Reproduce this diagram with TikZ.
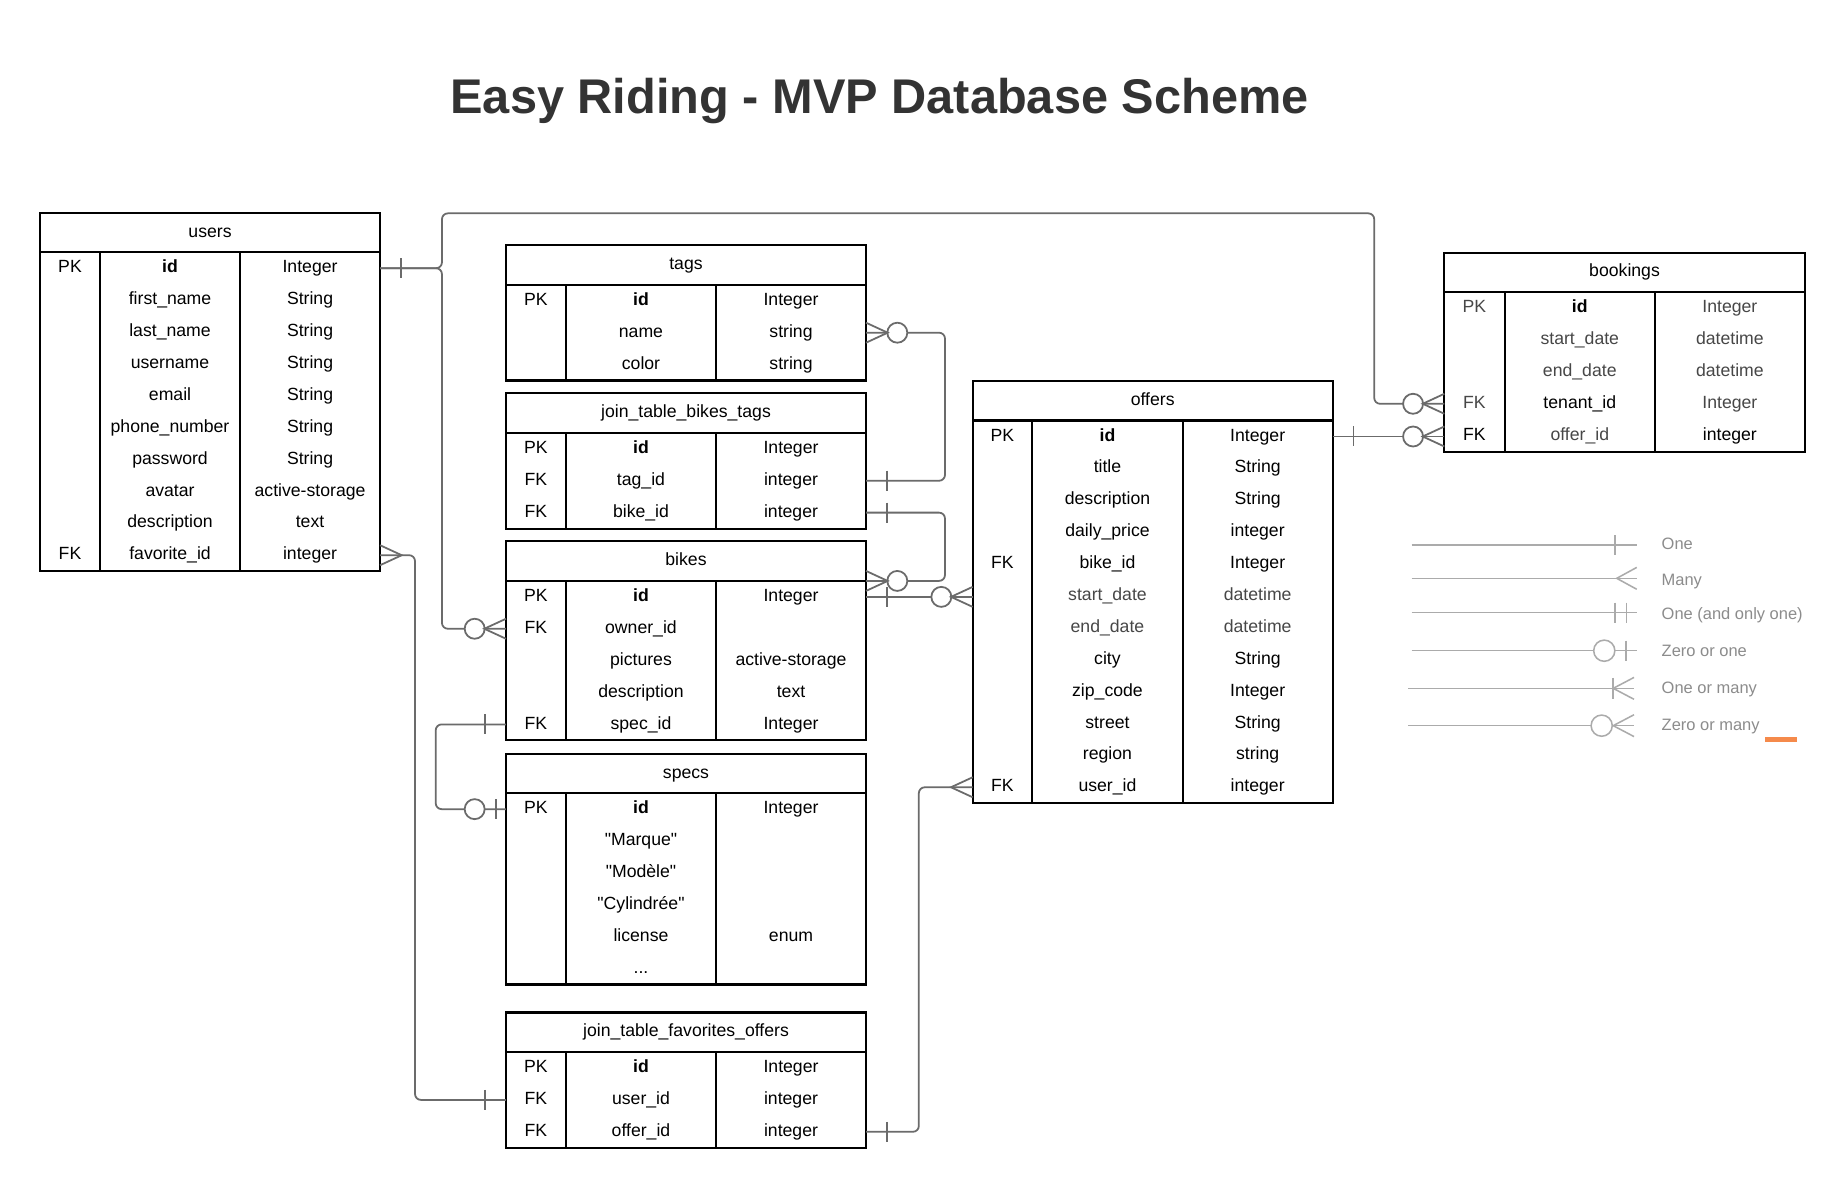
\documentclass[tikz,border=0pt]{standalone}
\usepackage{fontspec}
\setmainfont{Liberation Sans}
\usetikzlibrary{calc,fit}
\definecolor{conncol}{HTML}{6B6B6B}
\definecolor{softtxt}{HTML}{474747}
\definecolor{legcol}{HTML}{ABABAB}
\definecolor{legtxt}{HTML}{8C8C8C}
\definecolor{titlecol}{HTML}{333333}
\definecolor{orangebar}{HTML}{F58A4B}

\newcommand\errh{27.1}
\newcommand\erhh{33.6}
% straight double quote, bypassing the TeX ligature mapping
\newcommand\sq{\XeTeXglyph\XeTeXcharglyph 34\relax}

\tikzset{
  tablebox/.style={draw=black, line width=1.8pt, inner sep=0pt, outer sep=0pt},
  tableline/.style={draw=black, line width=1.8pt},
  rowbox/.style={inner sep=0pt, outer sep=0pt, minimum height=\errh pt},
  celltxt/.style={font=\fontsize{15}{18}\selectfont, inner sep=0pt, outer sep=0pt, text height=11pt, text depth=3.2pt, anchor=center},
  conn/.style={draw=conncol, line width=1.5pt, rounded corners=5pt},
  sym/.style={draw=conncol, line width=1.5pt},
  legline/.style={draw=legcol, line width=1.3pt},
  legtext/.style={font=\fontsize{14}{17}\selectfont, text=legtxt, anchor=west, inner sep=0pt, text height=10.5pt, text depth=3pt},
}

% #1 name, #2 title, #3 left, #4 top, #5 right, #6 col1, #7 col2, #8 rows
\newcommand\ertable[8]{%
  \pgfmathsetmacro\erhb{#4+\erhh}%
  \pgfmathsetmacro\erbt{#4+\erhh+#8*\errh}%
  \pgfmathsetmacro\erw{#5-#3}%
  \coordinate (#1-nw) at (#3,#4);%
  \coordinate (#1-se) at (#5,\erbt);%
  \node[tablebox, fit=(#1-nw)(#1-se)] (#1) {};%
  \node[celltxt] (#1-title) at ({(#3+#5)/2},{#4+\erhh/2}) {#2};%
  \draw[tableline] (#3,\erhb) -- (#5,\erhb);%
  \draw[tableline] (#6,\erhb) -- (#6,\erbt);%
  \draw[tableline] (#7,\erhb) -- (#7,\erbt);%
  \coordinate (#1-k) at ({(#3+#6)/2},0);%
  \coordinate (#1-f) at ({(#6+#7)/2},0);%
  \coordinate (#1-t) at ({(#7+#5)/2},0);%
  \foreach \i in {1,...,#8}{%
    \node[rowbox, minimum width=\erw pt] (#1-\i) at ({(#3+#5)/2},{\erhb+(\i-0.5)*\errh}) {};%
  }%
}
% #1 table, #2 row, #3 key, #4 field, #5 type
\newcommand\erow[5]{%
  \node[celltxt] (#1-#2k) at (#1-k |- #1-#2) {#3};%
  \node[celltxt] (#1-#2f) at (#1-f |- #1-#2) {#4};%
  \node[celltxt] (#1-#2t) at (#1-t |- #1-#2) {#5};%
}
% crow's foot, circle, bar at an edge point; #2 = direction (+1 right, -1 left)
\newcommand\crowf[2]{\draw[sym] ($(#1)+(0,-8.5)$) -- ($(#1)+(#2*18.4,0)$) -- ($(#1)+(0,8.5)$);}
\newcommand\ocirc[2]{\draw[sym, fill=white] ($(#1)+(#2*26.6,0)$) circle[radius=8.5pt];}
\newcommand\obar[3]{\draw[sym] ($(#1)+(#2*#3,-8.5)$) -- ($(#1)+(#2*#3,8.5)$);}

\begin{document}
\begin{tikzpicture}[x=1pt,y=-1pt]
\useasboundingbox[fill=white] (0,0) rectangle (1568,1010);

\node[font=\bfseries\fontsize{41.4}{48}\selectfont, text=titlecol, anchor=base, inner sep=0pt] (title) at (747.5,96.8) {Easy Riding - MVP Database Scheme};

% ---------- tables ----------
\ertable{users}{users}{34}{180.8}{323}{85}{204}{10}
\erow{users}{1}{PK}{\bfseries id}{Integer}
\erow{users}{2}{}{first\_name}{String}
\erow{users}{3}{}{last\_name}{String}
\erow{users}{4}{}{username}{String}
\erow{users}{5}{}{email}{String}
\erow{users}{6}{}{phone\_number}{String}
\erow{users}{7}{}{password}{String}
\erow{users}{8}{}{avatar}{active-storage}
\erow{users}{9}{}{description}{text}
\erow{users}{10}{FK}{favorite\_id}{integer}

\ertable{tags}{tags}{430}{208.5}{736}{481}{608.5}{3}
\erow{tags}{1}{PK}{\bfseries id}{Integer}
\erow{tags}{2}{}{name}{string}
\erow{tags}{3}{}{color}{string}

\ertable{jbt}{join\_table\_bikes\_tags}{430}{334.3}{736}{481}{608.5}{3}
\erow{jbt}{1}{PK}{\bfseries id}{Integer}
\erow{jbt}{2}{FK}{tag\_id}{integer}
\erow{jbt}{3}{FK}{bike\_id}{integer}

\ertable{bikes}{bikes}{430}{460.1}{736}{481}{608.5}{5}
\erow{bikes}{1}{PK}{\bfseries id}{Integer}
\erow{bikes}{2}{FK}{owner\_id}{}
\erow{bikes}{3}{}{pictures}{active-storage}
\erow{bikes}{4}{}{description}{text}
\erow{bikes}{5}{FK}{spec\_id}{Integer}

\ertable{specs}{specs}{430}{640.5}{736}{481}{608.5}{6}
\erow{specs}{1}{PK}{\bfseries id}{Integer}
\erow{specs}{2}{}{\sq Marque\sq}{}
\erow{specs}{3}{}{\sq Modèle\sq}{}
\erow{specs}{4}{}{\sq Cylindrée\sq}{}
\erow{specs}{5}{}{license}{enum}
\erow{specs}{6}{}{...}{}

\ertable{jfav}{join\_table\_favorites\_offers}{430}{860.5}{736}{481}{608.5}{3}
\erow{jfav}{1}{PK}{\bfseries id}{Integer}
\erow{jfav}{2}{FK}{user\_id}{integer}
\erow{jfav}{3}{FK}{offer\_id}{integer}

\ertable{offers}{offers}{826.6}{323.8}{1132.6}{877.3}{1005.1}{12}
\erow{offers}{1}{PK}{\bfseries id}{Integer}
\erow{offers}{2}{}{title}{String}
\erow{offers}{3}{}{description}{String}
\erow{offers}{4}{}{daily\_price}{integer}
\erow{offers}{5}{FK}{bike\_id}{Integer}
\erow{offers}{6}{}{\color{softtxt}start\_date}{\color{softtxt}datetime}
\erow{offers}{7}{}{\color{softtxt}end\_date}{\color{softtxt}datetime}
\erow{offers}{8}{}{city}{String}
\erow{offers}{9}{}{zip\_code}{Integer}
\erow{offers}{10}{}{street}{String}
\erow{offers}{11}{}{region}{string}
\erow{offers}{12}{FK}{user\_id}{integer}

\ertable{bookings}{bookings}{1227.5}{214.7}{1533.8}{1278.7}{1406.5}{5}
\erow{bookings}{1}{\color{softtxt}PK}{\bfseries id}{\color{softtxt}Integer}
\erow{bookings}{2}{}{\color{softtxt}start\_date}{\color{softtxt}datetime}
\erow{bookings}{3}{}{\color{softtxt}end\_date}{\color{softtxt}datetime}
\erow{bookings}{4}{\color{softtxt}FK}{tenant\_id}{\color{softtxt}Integer}
\erow{bookings}{5}{FK}{\color{softtxt}offer\_id}{integer}

% ---------- connectors ----------
\coordinate (uj) at (375.6,0);
\coordinate (toprun) at (1167.9,181.3);
\coordinate (fv) at (352.7,0);
\coordinate (tj) at (803.1,0);
\coordinate (sj) at (370.3,0);
\coordinate (oj) at (780.9,0);
\coordinate (bo) at (bikes-1.east -| offers.west);
\coordinate (ob) at (offers-1.east -| bookings.west);
\coordinate (bh) at (bikes-1.north east);

% users.id -> bookings.tenant_id
\draw[conn] (users-1.east) -- (uj |- users-1) -- (uj |- toprun) -- (toprun) -- (toprun |- bookings-4) -- (bookings-4.west);
% users.id -> bikes.owner_id
\draw[conn] (users-1.east) -- (uj |- users-1) -- (uj |- bikes-2) -- (bikes-2.west);
\obar{users-1.east}{1}{17.8}
\ocirc{bookings-4.west}{-1}\crowf{bookings-4.west}{-1}
\ocirc{bikes-2.west}{-1}\crowf{bikes-2.west}{-1}

% users.favorite_id -> join_table_favorites_offers.user_id
\draw[conn] (users-10.east) -- (fv |- users-10) -- (fv |- jfav-2) -- (jfav-2.west);
\crowf{users-10.east}{1}
\obar{jfav-2.west}{-1}{17.6}

% tags -> join_table_bikes_tags.tag_id
\draw[conn] (tags-2.east) -- (tj |- tags-2) -- (tj |- jbt-2) -- (jbt-2.east);
\ocirc{tags-2.east}{1}\crowf{tags-2.east}{1}
\obar{jbt-2.east}{1}{17.6}

% join_table_bikes_tags.bike_id -> bikes
\draw[conn] (jbt-3.east) -- (tj |- jbt-3) -- (tj |- bh) -- (bh);
\obar{jbt-3.east}{1}{17.6}
\ocirc{bh}{1}\crowf{bh}{1}

% bikes.id -> offers
\draw[conn] (bikes-1.east) -- (bo);
\obar{bikes-1.east}{1}{17.6}
\ocirc{bo}{-1}\crowf{bo}{-1}

% offers.id -> bookings.offer_id
\draw[conn] (offers-1.east) -- (ob);
\obar{offers-1.east}{1}{17.6}
\ocirc{ob}{-1}\crowf{ob}{-1}

% bikes.spec_id -> specs.id
\draw[conn] (bikes-5.west) -- (sj |- bikes-5) -- (sj |- specs-1) -- (specs-1.west);
\obar{bikes-5.west}{-1}{17.6}
\ocirc{specs-1.west}{-1}\obar{specs-1.west}{-1}{8.7}

% join_table_favorites_offers.offer_id -> offers.user_id
\draw[conn] (jfav-3.east) -- (oj |- jfav-3) -- (oj |- offers-12) -- (offers-12.west);
\obar{jfav-3.east}{1}{17.6}
\crowf{offers-12.west}{-1}

% ---------- legend ----------
\coordinate (l1a) at (1199.7,463.2); \coordinate (l1b) at (1391,463.2);
\coordinate (l2a) at (1199.7,491.5); \coordinate (l2b) at (1391,491.5);
\coordinate (l3a) at (1199.7,520.7); \coordinate (l3b) at (1391,520.7);
\coordinate (l4a) at (1199.7,553);   \coordinate (l4b) at (1391,553);
\coordinate (l5a) at (1196.8,585);   \coordinate (l5b) at (1388.7,585);
\coordinate (l6a) at (1196.8,616.7); \coordinate (l6b) at (1388.7,616.7);

\draw[legline] (l1a) -- (l1b);
\draw[legline] ($(l1b)+(-18.5,-8.5)$) -- ($(l1b)+(-18.5,8.5)$);

\draw[legline] (l2a) -- (l2b);
\draw[legline] ($(l2b)+(0,-9.3)$) -- ($(l2b)+(-17,0)$) -- ($(l2b)+(0,9.3)$);

\draw[legline] (l3a) -- (l3b);
\draw[legline] ($(l3b)+(-18.5,-8.5)$) -- ($(l3b)+(-18.5,8.5)$);
\draw[legline] ($(l3b)+(-8.6,-8.5)$) -- ($(l3b)+(-8.6,8.5)$);

\draw[legline] (l4a) -- (l4b);
\draw[legline, fill=white] ($(l4b)+(-27.6,0)$) circle[radius=9pt];
\draw[legline] ($(l4b)+(-9.2,-8.5)$) -- ($(l4b)+(-9.2,8.5)$);

\draw[legline] (l5a) -- (l5b);
\draw[legline] ($(l5b)+(-17.7,-9)$) -- ($(l5b)+(-17.7,9)$);
\draw[legline] ($(l5b)+(0,-9.3)$) -- ($(l5b)+(-17.7,0)$) -- ($(l5b)+(0,9.3)$);

\draw[legline] (l6a) -- (l6b);
\draw[legline] ($(l6b)+(0,-9.3)$) -- ($(l6b)+(-17.7,0)$) -- ($(l6b)+(0,9.3)$);
\draw[legline, fill=white] ($(l6b)+(-27.5,0)$) circle[radius=9pt];

\node[legtext] (leg1) at (1412,463.2) {One};
\node[legtext] (leg2) at (1412,493.5) {Many};
\node[legtext] (leg3) at (1412,522.7) {One (and only one)};
\node[legtext] (leg4) at (1412,554.5) {Zero or one};
\node[legtext] (leg5) at (1412,585.5) {One or many};
\node[legtext] (leg6) at (1412,616.7) {Zero or many};

\fill[orangebar] (1500,626.5) rectangle (1527,630.5);
\end{tikzpicture}
\end{document}
